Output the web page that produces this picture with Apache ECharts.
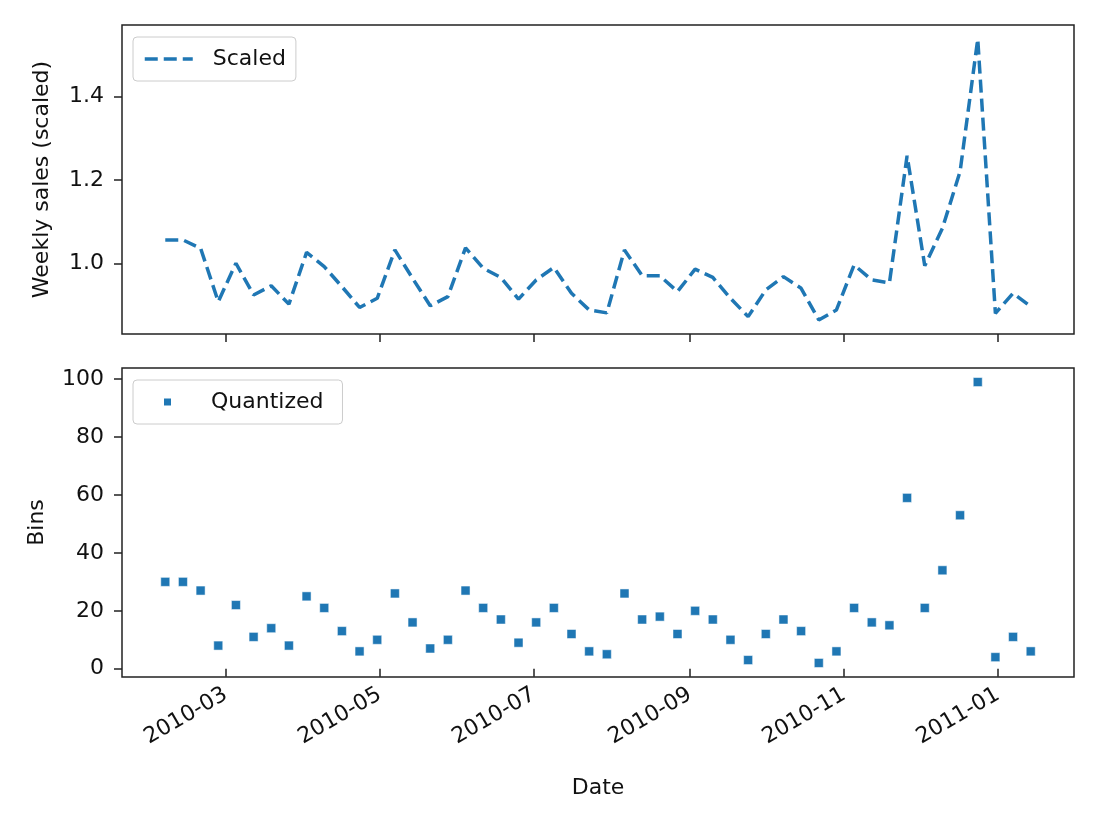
<!DOCTYPE html>
<html>
<head>
<meta charset="utf-8">
<title>Weekly sales</title>
<script src="https://cdn.jsdelivr.net/npm/echarts@6/dist/echarts.min.js"></script>
<style>
    html, body { margin: 0; padding: 0; background: #fff; }
    #MainContent { width: 1100px; height: 824px; }
</style>
</head>
<body>
<div id="MainContent"></div>
<script>
// weekly dates (Fridays)
var dates = [
    '2010-02-05', '2010-02-12', '2010-02-19', '2010-02-26', '2010-03-05', '2010-03-12',
    '2010-03-19', '2010-03-26', '2010-04-02', '2010-04-09', '2010-04-16', '2010-04-23',
    '2010-04-30', '2010-05-07', '2010-05-14', '2010-05-21', '2010-05-28', '2010-06-04',
    '2010-06-11', '2010-06-18', '2010-06-25', '2010-07-02', '2010-07-09', '2010-07-16',
    '2010-07-23', '2010-07-30', '2010-08-06', '2010-08-13', '2010-08-20', '2010-08-27',
    '2010-09-03', '2010-09-10', '2010-09-17', '2010-09-24', '2010-10-01', '2010-10-08',
    '2010-10-15', '2010-10-22', '2010-10-29', '2010-11-05', '2010-11-12', '2010-11-19',
    '2010-11-26', '2010-12-03', '2010-12-10', '2010-12-17', '2010-12-24', '2010-12-31',
    '2011-01-07', '2011-01-14'
];

var scaled = [
    1.056, 1.056, 1.036, 0.908, 1.000, 0.924, 0.946, 0.902, 1.026, 0.992,
    0.944, 0.894, 0.916, 1.032, 0.964, 0.898, 0.920, 1.037, 0.988, 0.966,
    0.914, 0.960, 0.990, 0.928, 0.888, 0.881, 1.032, 0.970, 0.970, 0.932,
    0.986, 0.966, 0.916, 0.872, 0.936, 0.968, 0.940, 0.864, 0.888, 0.996,
    0.960, 0.953, 1.258, 0.994, 1.084, 1.220, 1.538, 0.880, 0.928, 0.896
];

var bins = [
    30, 30, 27, 8, 22, 11, 14, 8, 25, 21,
    13, 6, 10, 26, 16, 7, 10, 27, 21, 17,
    9, 16, 21, 12, 6, 5, 26, 17, 18, 12,
    20, 17, 10, 3, 12, 17, 13, 2, 6, 21,
    16, 15, 59, 21, 34, 53, 99, 4, 11, 6
];

var dateTicks = ['2010-03-01', '2010-05-01', '2010-07-01', '2010-09-01', '2010-11-01', '2011-01-01'];
var scaledTicks = [1.0, 1.2, 1.4];
var binTicks = [0, 20, 40, 60, 80, 100];

var FONT = 'DejaVu Sans';
var BLUE = '#1f77b4';
var INK = '#222222';

function ts(s) {
    var p = s.split('-');
    return Date.UTC(+p[0], +p[1] - 1, +p[2]);
}

// matplotlib style 5% margins
function padMin(e) { return e.min - 0.05 * (e.max - e.min); }
function padMax(e) { return e.max + 0.05 * (e.max - e.min); }

function monthLabel(v) {
    var d = new Date(v);
    var m = d.getUTCMonth() + 1;
    return d.getUTCFullYear() + '-' + (m < 10 ? '0' + m : m);
}

var tickTs = dateTicks.map(ts);
var scaledData = dates.map(function (d, i) { return [ts(d), scaled[i]]; });
var binData = dates.map(function (d, i) { return [ts(d), bins[i]]; });

var chart = echarts.init(document.getElementById('MainContent'));

function xAxisFor(gridIndex, withLabels) {
    return {
        type: 'value',
        gridIndex: gridIndex,
        min: padMin,
        max: padMax,
        scale: true,
        axisLine: { show: false },
        splitLine: { show: false },
        axisTick: { show: true, length: 8, customValues: tickTs,
                    lineStyle: { color: INK, width: 1.5 } },
        axisLabel: {
            show: withLabels,
            customValues: tickTs,
            rotate: 30,
            margin: 16,
            fontFamily: FONT,
            fontSize: 22,
            color: '#111',
            formatter: function (v) { return monthLabel(v); }
        },
        name: withLabels ? 'Date' : '',
        nameLocation: 'middle',
        nameGap: 100,
        nameTextStyle: { fontFamily: FONT, fontSize: 22, color: '#111' }
    };
}

function yAxisFor(gridIndex, name, ticks, digits, gap) {
    return {
        type: 'value',
        gridIndex: gridIndex,
        min: padMin,
        max: padMax,
        scale: true,
        axisLine: { show: false },
        splitLine: { show: false },
        axisTick: { show: true, length: 8, customValues: ticks,
                    lineStyle: { color: INK, width: 1.5 } },
        axisLabel: {
            customValues: ticks,
            margin: 18,
            fontFamily: FONT,
            fontSize: 22,
            color: '#111',
            formatter: function (v) { return v.toFixed(digits); }
        },
        name: name,
        nameLocation: 'middle',
        nameGap: gap,
        nameTextStyle: { fontFamily: FONT, fontSize: 22, color: '#111' }
    };
}

var legendFrame = {
    left: 133,
    backgroundColor: 'rgba(255,255,255,0.8)',
    borderColor: '#cccccc',
    borderWidth: 1,
    borderRadius: 4
};

function legendFor(extra) {
    return Object.assign({}, legendFrame, extra);
}

var option = {
    animation: false,
    backgroundColor: '#ffffff',
    grid: [
        { left: 122, right: 26, top: 25, height: 309, show: true,
          borderColor: INK, borderWidth: 1.5, outerBoundsMode: 'none' },
        { left: 122, right: 26, top: 368, height: 309, show: true,
          borderColor: INK, borderWidth: 1.5, outerBoundsMode: 'none' }
    ],
    legend: [
        legendFor({
            top: 37,
            padding: [11, 10, 11, 10],
            itemWidth: 48,
            itemHeight: 14,
            itemStyle: { opacity: 0 },
            lineStyle: { color: BLUE, width: 3.5, type: [13, 6] },
            textStyle: { fontFamily: FONT, fontSize: 22, color: '#111', lineHeight: 22, padding: [0, 0, 0, 15] },
            data: ['Scaled']
        }),
        legendFor({
            top: 380,
            padding: [11, 19, 11, 29],
            itemWidth: 9,
            itemHeight: 9,
            icon: 'rect',
            textStyle: { fontFamily: FONT, fontSize: 22, color: '#111', lineHeight: 22, padding: [0, 0, 0, 34] },
            data: ['Quantized']
        })
    ],
    xAxis: [xAxisFor(0, false), xAxisFor(1, true)],
    yAxis: [
        yAxisFor(0, 'Weekly sales (scaled)', scaledTicks, 1, 69),
        yAxisFor(1, 'Bins', binTicks, 0, 74)
    ],
    series: [
        {
            name: 'Scaled',
            type: 'line',
            xAxisIndex: 0,
            yAxisIndex: 0,
            data: scaledData,
            symbol: 'none',
            color: BLUE,
            lineStyle: { color: BLUE, width: 3.5, type: [13, 6] }
        },
        {
            name: 'Quantized',
            type: 'scatter',
            xAxisIndex: 1,
            yAxisIndex: 1,
            data: binData,
            symbol: 'rect',
            symbolSize: 9,
            color: BLUE,
            itemStyle: { color: BLUE, borderColor: '#ffffff', borderWidth: 0.5, opacity: 1 }
        }
    ]
};

chart.setOption(option);
window.onresize = chart.resize;
</script>
</body>
</html>
